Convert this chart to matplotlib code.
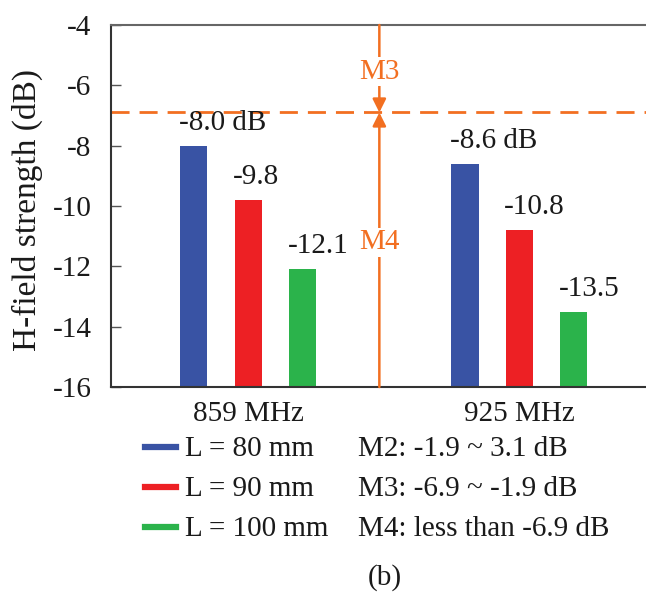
import matplotlib
matplotlib.use('Agg')
import matplotlib.pyplot as plt
import numpy as np

# data
freqs = ['859 MHz', '925 MHz']
lengths = ['L = 80 mm', 'L = 90 mm', 'L = 100 mm']
h_80 = [-8.0, -8.6]
h_90 = [-9.8, -10.8]
h_100 = [-12.1, -13.5]
labels_80 = ['-8.0 dB', '-8.6 dB']
labels_90 = ['-9.8', '-10.8']
labels_100 = ['-12.1', '-13.5']
mode_notes = ['M2: -1.9 ~ 3.1 dB', 'M3: -6.9 ~ -1.9 dB', 'M4: less than -6.9 dB']
m3_limit = -6.9

plt.rcParams['font.family'] = ['Liberation Serif', 'DejaVu Serif']
plt.rcParams['font.size'] = 21
plt.rcParams['axes.unicode_minus'] = False

blue = '#3953a4'
red = '#ed2024'
green = '#2bb34b'
orange = '#f26f21'
txt = '#1a1a1a'

fig = plt.figure(figsize=(6.46, 5.93), dpi=100)
ax = fig.add_axes([111/646, 1 - 387/593, 560/646, 362/593])

x = np.arange(len(freqs))
w = 0.1
series = [(h_80, labels_80, blue, -0.2), (h_90, labels_90, red, 0.0), (h_100, labels_100, green, 0.2)]
for vals, labs, col, off in series:
    ax.bar(x + off, np.array(vals) - (-16), w, bottom=-16, color=col)
    for xi, v, t in zip(x, vals, labs):
        ax.text(xi + off - w/2 - 0.005, v + 0.33, t, ha='left', va='bottom', fontsize=21, color=txt)

# M3 / M4 boundary
xm = 0.484
ax.axhline(m3_limit, color=orange, lw=2, ls=(0, (6.5, 3.6)), zorder=1)
ax.annotate('', xy=(xm, m3_limit), xytext=(xm, -4),
            arrowprops=dict(arrowstyle='-|>', color=orange, lw=1.8, mutation_scale=20, shrinkA=0, shrinkB=0))
ax.annotate('', xy=(xm, m3_limit), xytext=(xm, -16),
            arrowprops=dict(arrowstyle='-|>', color=orange, lw=1.8, mutation_scale=20, shrinkA=0, shrinkB=0))
ax.text(xm, -5.55, 'M3', ha='center', va='center', color=orange, fontsize=21,
        bbox=dict(facecolor='white', edgecolor='none', pad=1))
ax.text(xm, -11.2, 'M4', ha='center', va='center', color=orange, fontsize=21,
        bbox=dict(facecolor='white', edgecolor='none', pad=1))

ax.set_xlim(-0.506, 1.56)
ax.set_ylim(-16, -4)
ax.set_yticks(np.arange(-16, -3, 2))
ax.set_xticks(x)
ax.set_xticklabels(freqs)
ax.tick_params(axis='x', length=0, pad=10, labelsize=21, labelcolor=txt)
ax.tick_params(axis='y', direction='in', length=7, width=1, color='#555555', labelsize=21, pad=14, labelcolor=txt)
ax.set_ylabel('H-field strength (dB)', fontsize=24, color=txt)
ax.yaxis.set_label_coords(-0.121, 0.489)
for s in ['left', 'bottom']:
    ax.spines[s].set_color('#333333')
    ax.spines[s].set_linewidth(1.5)
ax.spines['top'].set_color('#666666')
ax.spines['top'].set_linewidth(1.5)
ax.spines['right'].set_visible(False)

# legend
rows_y = [449, 489, 529]
for yy, lab, col, note in zip(rows_y, lengths, [blue, red, green], mode_notes):
    fy = 1 - yy/593
    fig.add_artist(plt.Line2D([145/646, 176/646], [fy + 0.003, fy + 0.003], color=col, lw=4.5))
    fig.text(185/646, fy, lab, ha='left', va='center', fontsize=21, color=txt)
    fig.text(358/646, fy, note, ha='left', va='center', fontsize=21, color=txt)

fig.text(385/646, 1 - 578/593, '(b)', ha='center', va='center', fontsize=21, color=txt)

fig.savefig('out.png', dpi=100)
